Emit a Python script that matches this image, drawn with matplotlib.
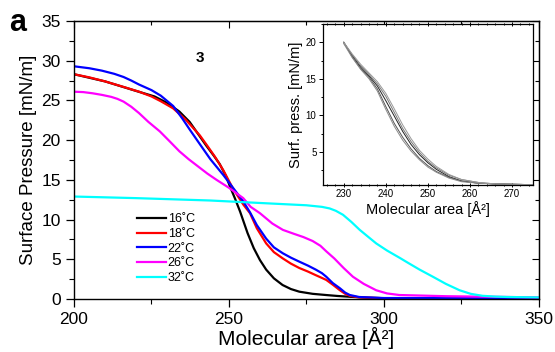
import matplotlib
matplotlib.use("Agg")
import matplotlib.pyplot as plt
from matplotlib.ticker import MultipleLocator

plt.rcParams["font.family"] = ["Liberation Sans", "DejaVu Sans"]

# main isotherms
x16 = [200, 210, 220, 226, 230, 234, 237.3, 240, 242.7, 245, 247, 249, 250.5, 252, 253.6, 256, 258,
       260, 262, 264.5, 267.3, 270, 272.7, 277, 281.3, 285, 289, 295, 300, 350]
y16 = [28.3, 27.4, 26.2, 25.5, 24.7, 23.6, 22.3, 20.8, 19.3, 18.1, 17.0, 15.5, 14.0, 12.6, 11.0, 8.3, 6.4,
       4.9, 3.7, 2.6, 1.76, 1.25, 0.92, 0.65, 0.5, 0.38, 0.28, 0.15, 0.1, 0.05]

x18 = [200, 205, 210, 216, 221, 225, 228, 232, 236, 240.6, 243, 245.5, 248.2, 251.3, 254.6, 256.8, 259,
       262, 264.5, 267.4, 270, 272.7, 275.5, 278, 280, 281.4, 283.5, 285.8, 287.5, 289, 292, 300, 350]
y18 = [28.3, 27.9, 27.4, 26.7, 26.1, 25.5, 24.9, 24.0, 22.6, 20.6, 19.3, 17.9, 16.2, 13.9, 11.9, 10.8, 8.9,
       7.0, 5.9, 5.1, 4.45, 3.9, 3.45, 3.0, 2.65, 2.4, 1.8, 1.1, 0.65, 0.4, 0.2, 0.1, 0.05]

x22 = [200, 205, 209, 213, 216, 218.5, 221, 225, 228, 232, 235, 237.4, 240.6, 244, 248.2, 251.5, 254.6, 256.8, 259,
       262, 264.5, 267.4, 270, 272.7, 275.5, 278, 280, 281.4, 283.5, 285.8, 287.5, 289, 292, 300, 350]
y22 = [29.3, 29.05, 28.75, 28.35, 27.95, 27.5, 27.0, 26.3, 25.6, 24.3, 22.7, 21.3, 19.5, 17.6, 15.6, 13.9, 12.3, 10.9, 9.3,
       7.6, 6.5, 5.75, 5.2, 4.7, 4.2, 3.7, 3.25, 2.8, 2.0, 1.35, 0.8, 0.5, 0.25, 0.12, 0.1]

x26 = [200, 203, 206, 209, 212, 214, 216, 218.5, 221, 224, 227.7, 231, 234, 237, 240, 243, 246, 250, 254.6, 257,
       260, 264, 267.4, 271, 274, 277, 279.5, 281.4, 284, 287, 290, 293.5, 297.5, 301, 305, 320, 350]
y26 = [26.1, 26.05, 25.9, 25.7, 25.45, 25.2, 24.85, 24.2, 23.4, 22.3, 21.1, 19.8, 18.6, 17.6, 16.7, 15.8, 15.0, 14.0, 12.7, 11.6,
       10.8, 9.5, 8.7, 8.2, 7.8, 7.3, 6.7, 6.0, 5.1, 3.9, 2.8, 1.9, 1.1, 0.7, 0.5, 0.35, 0.2]

x32 = [200, 220, 244, 262, 275, 280, 282.5, 284.5, 286.8, 289.5, 292.2, 295, 297.5, 301, 305, 308,
       311.5, 315.8, 320, 324.4, 328, 331.8, 336, 340, 350]
y32 = [12.9, 12.7, 12.4, 12.05, 11.8, 11.6, 11.4, 11.1, 10.6, 9.7, 8.7, 7.8, 7.0, 6.1, 5.2, 4.5,
       3.7, 2.8, 1.9, 1.1, 0.65, 0.4, 0.3, 0.25, 0.2]

series = [
    ("16˚C", x16, y16, "black"),
    ("18˚C", x18, y18, "#ff0000"),
    ("22˚C", x22, y22, "#0000ff"),
    ("26˚C", x26, y26, "#ff00ff"),
    ("32˚C", x32, y32, "#00ffff"),
]

# inset: repeated compressions
xin = [230, 232, 234, 236, 238, 240, 242, 244, 246, 248, 250, 252, 255, 258, 262, 266, 270, 275]
yin1 = [20.0, 18.2, 16.6, 15.4, 14.0, 12.0, 9.9, 7.8, 6.0, 4.6, 3.5, 2.6, 1.6, 1.0, 0.7, 0.6, 0.55, 0.5]
yin2 = [20.0, 18.0, 16.4, 15.2, 13.6, 11.2, 8.9, 7.0, 5.4, 4.1, 3.1, 2.3, 1.5, 1.0, 0.7, 0.6, 0.55, 0.5]
yin3 = [19.9, 18.3, 16.8, 15.6, 14.3, 12.6, 10.4, 8.2, 6.4, 4.9, 3.7, 2.8, 1.8, 1.2, 0.8, 0.6, 0.55, 0.5]
yin4 = [19.8, 17.9, 16.3, 15.0, 13.3, 10.8, 8.5, 6.6, 5.1, 3.9, 2.9, 2.2, 1.4, 0.9, 0.7, 0.6, 0.55, 0.5]
yin5 = [20.0, 18.4, 17.0, 15.8, 14.6, 13.0, 10.9, 8.7, 6.8, 5.2, 4.0, 3.0, 1.9, 1.2, 0.8, 0.6, 0.55, 0.5]
inset_grays = ["#222222", "#555555", "#777777", "#8a8a8a", "#9a9a9a"]

fig = plt.figure(figsize=(5.55, 3.52), dpi=100)
ax = fig.add_axes([0.1333, 0.1506, 0.8377, 0.7897])

for label, xs, ys, c in series:
    ax.plot(xs, ys, color=c, lw=1.6, label=label)

ax.set_xlim(200, 350)
ax.set_ylim(0, 35)
ax.xaxis.set_major_locator(MultipleLocator(50))
ax.xaxis.set_minor_locator(MultipleLocator(25))
ax.yaxis.set_major_locator(MultipleLocator(5))
ax.yaxis.set_minor_locator(MultipleLocator(2.5))
ax.tick_params(which="major", length=6, width=0.9, labelsize=12.5, direction="out")
ax.tick_params(which="minor", length=3.5, width=0.8, direction="out")
for sp in ax.spines.values():
    sp.set_linewidth(1.0)
ax.set_xlabel("Molecular area [Å²]", fontsize=15, labelpad=0)
ax.set_ylabel("Surface Pressure [mN/m]", fontsize=13.5, labelpad=3)

# inward ticks on top and right
top = ax.secondary_xaxis("top")
top.xaxis.set_major_locator(MultipleLocator(50))
top.xaxis.set_minor_locator(MultipleLocator(25))
top.tick_params(which="both", direction="in", labeltop=False, width=0.8)
top.tick_params(which="major", length=5)
top.tick_params(which="minor", length=3)
right = ax.secondary_yaxis("right")
right.yaxis.set_major_locator(MultipleLocator(5))
right.yaxis.set_minor_locator(MultipleLocator(2.5))
right.tick_params(which="both", direction="in", labelright=False, width=0.8)
right.tick_params(which="major", length=5)
right.tick_params(which="minor", length=3)

ax.legend(loc="upper left", bbox_to_anchor=(0.117, 0.34), frameon=False,
          fontsize=9, handlelength=2.3, handletextpad=0.15, labelspacing=0.22,
          borderpad=0.2)

ax.text(240.6, 30.3, "3", fontsize=11, fontweight="bold", ha="center", va="center")
fig.text(0.032, 0.935, "a", fontsize=22, fontweight="bold", ha="center", va="center")

# inset
ins = fig.add_axes([0.5815, 0.4744, 0.3789, 0.4574])
for ys, c in zip([yin1, yin2, yin3, yin4, yin5], inset_grays):
    ins.plot(xin, ys, color=c, lw=0.7)
ins.set_xlim(225, 275)
ins.set_ylim(0.45, 22.5)
ins.xaxis.set_major_locator(MultipleLocator(10))
ins.xaxis.set_minor_locator(MultipleLocator(2))
ins.yaxis.set_major_locator(MultipleLocator(5))
ins.yaxis.set_minor_locator(MultipleLocator(2.5))
ins.tick_params(which="both", labelsize=7, width=0.7, direction="out", pad=1.5)
ins.tick_params(which="major", length=3)
ins.tick_params(which="minor", length=1.8)
ins.tick_params(axis="x", which="both", top=True, direction="inout")
for sp in ins.spines.values():
    sp.set_linewidth(0.9)
ins.set_xlabel("Molecular area [Å²]", fontsize=10.5, labelpad=1)
ins.set_ylabel("Surf. press. [mN/m]", fontsize=10.5, labelpad=2)

fig.savefig("out.png", dpi=100)
